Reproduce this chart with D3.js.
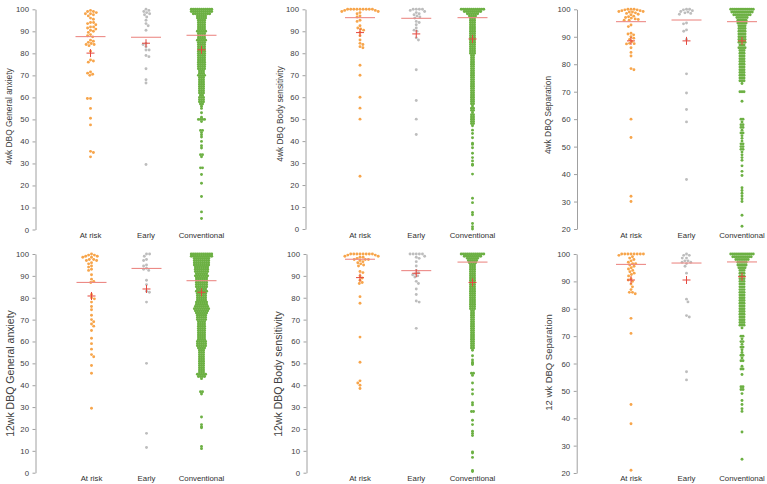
<!DOCTYPE html>
<html>
<head>
<meta charset="utf-8">
<script src="https://cdn.jsdelivr.net/npm/d3@7"></script>
<style>
  body { margin: 0; background: #fff; }
  svg { display: block; font-family: "Liberation Sans", Arial, sans-serif; }
</style>
</head>
<body>
<svg id="chart" width="767" height="484"></svg>
<script>
// groups on every panel
const categories = ["At risk", "Early", "Conventional"];
const panelTitles = [
  "4wk DBQ General anxiety", "4wk DBQ Body sensitivity", "4wk DBQ Separation",
  "12wk DBQ General anxiety", "12wk DBQ Body sensitivity", "12 wk DBQ Separation"
];
const ticksFull = [0, 10, 20, 30, 40, 50, 60, 70, 80, 90, 100];
const ticksSep = [20, 30, 40, 50, 60, 70, 80, 90, 100];

// 4wk General anxiety
const atRiskGA4 = [99.5,99,99,98.5,98,98,97.5,97,96,95.5,94,94,93.5,93,92,92,91.5,91,90.5,90,89.5,88.5,88,87.5,86,85.5,85,84.5,84,84,83.5,81,77,76.5,76,71.5,71,70.5,70,59.5,59.5,55,50.5,47.5,35.5,35,33];
const earlyGA4 = [100,99.5,99,98.5,98,97.5,96.5,95,93.5,92.5,90.5,84.5,84,83,81.5,81.5,79,78.5,73,68,66.5,29.5];
// conventional groups are [value, count]
const convGA4 = [[100,11],[99,11],[98,9],[97,5],[96,5],[95,4],[94,4],[93,4],[92,4],[91,4],[90,5],[89,4],[88,4],[87,4],[86,5],[85,4],[84,4],[83,4],[82,4],[81,4],[80,4],[79,4],[78,4],[77,4],[76,4],[75,4],[74,4],[73,4],[72,3],[71,3],[70,4],[69,3],[68,3],[67,3],[66,3],[65,3],[64,3],[63,3],[62,3],[61,2],[60,3],[59,3],[58,3],[57,2],[56,1],[55,1],[53,1],[51,1],[50,4],[49,1],[45,2],[44,1],[43,1],[42,1],[40,1],[38,1],[37,1],[34,2],[33,1],[28,2],[25,1],[21,1],[15,1],[8,1],[5,1]];
const medGA4 = [87.6, 87.3, 88.2];
const meanGA4 = [80.1, 84.6, 81.6];

// 4wk Body sensitivity
const atRiskBS4 = [100,100,100,100,100,100,100,100,100,99.5,99.5,99,99,98.5,98,97,96.5,95,94.5,92.5,91.5,91,90.5,89.5,88,86,84.5,84,83,82.5,74.5,70,60,55,50,24];
const earlyBS4 = [100,100,100,100,99.5,99,98.5,98,97.5,97,96.5,96,94.5,94,93,91.5,90.5,90,87,86,72.5,58.5,50,43];
const convBS4 = [[100,12],[99,9],[98,6],[97,4],[96,3],[95,3],[94,3],[93,3],[92,3],[91,3],[90,3],[89,3],[88,3],[87,3],[86,3],[85,3],[84,3],[83,3],[82,3],[81,3],[80,3],[79,2],[78,2],[77,2],[76,2],[75,2],[74,2],[73,2],[72,2],[71,2],[70,2],[69,2],[68,2],[67,2],[66,2],[65,2],[64,2],[63,2],[62,2],[61,2],[60,2],[59,2],[58,2],[57,2],[56,1],[55,2],[54,2],[53,1],[52,2],[51,2],[50,2],[49,2],[48,2],[47,1],[45,1],[43.5,1],[41.5,1],[39,1],[38.5,1],[37,1],[34.5,1],[32.5,1],[31,1],[29.5,1],[29,1],[25,1],[14,1],[12,1],[7.5,1],[6.5,1],[2.5,1],[1,1],[0,1]];
const medBS4 = [96.2, 95.9, 96.2];
const meanBS4 = [89.4, 88.8, 86.5];

// 4wk Separation
const atRiskSep4 = [100,100,100,99.8,99.8,99.5,99.5,99.2,99.2,99,99,98.7,98.5,98.2,98,97.5,97.3,97,96.8,96.5,96.3,96,96,94.3,93.7,91.3,91,90.7,90,89.5,89,88.3,87.6,87.5,87.4,86,84.3,83,78.4,78,60,53.3,31.9,30];
const earlySep4 = [100,100,99.8,99.5,99.2,99,98.7,98.5,98.2,95,94.7,92.5,92,89,76.5,69.5,63.5,59,38];
const convSep4 = [[100,12],[99,11],[98,9],[97,6],[96,5],[95,5],[94,4],[93,4],[92,4],[91,4],[90,4],[89,4],[88,4],[87,3],[86,4],[85,3],[84,3],[83,3],[82,3],[81,3],[80,3],[79,3],[78,3],[77,3],[76,3],[75,3],[74,3],[73,1],[70,3],[66.5,1],[60,2],[59,1],[58,2],[57,2],[56,1],[55,2],[54,1],[53,1],[52,1],[51,2],[50,2],[49,2],[48,1],[47,1],[46,1],[45,1],[43,1],[41,1],[39.5,1],[35,1],[34,1],[33,1],[32,1],[31,1],[30,1],[25,1],[21,1]];
const medSep4 = [95.5, 96.1, 95.5];
const meanSep4 = [88.5, 88.5, 88.5];

// 12wk General anxiety
const atRiskGA12 = [100,99.5,99.5,99,99,98.5,98.5,97.5,97.5,97,97,96,95.5,94.5,94,93,92.5,90.5,88.5,87.5,87,81.5,80,79.5,78,76,74.5,72,70,69,68,67,65,61.5,59,56.5,54,53,49,45.5,29.5];
const earlyGA12 = [100,100,99,97.5,97,95,94.5,93.5,93,92.5,88,86,83,82.5,78,50,18,11.5];
const convGA12 = [[100,11],[99,11],[98,8],[97,8],[96,8],[95,8],[94,7],[93,7],[92,7],[91,6],[90,7],[89,6],[88,6],[87,6],[86,6],[85,6],[84,5],[83,6],[82,5],[81,5],[80,5],[79,5],[78,6],[77,6],[76,7],[75,8],[74,7],[73,6],[72,5],[71,5],[70,5],[69,4],[68,4],[67,4],[66,4],[65,4],[64,4],[63,4],[62,4],[61,4],[60,5],[59,5],[58,5],[57,4],[56,3],[55,3],[54,3],[53,3],[52,3],[51,3],[50,3],[49,3],[48,3],[47,3],[46,3],[45,5],[44,4],[43,1],[37,2],[36,1],[25.5,1],[22,1],[21,1],[20.5,1],[12,1],[11,1]];
const medGA12 = [87, 93.4, 87.8];
const meanGA12 = [80.8, 84, 82.5];

// 12wk Body sensitivity
const atRiskBS12 = [100,100,100,100,100,100,100,100,99.5,99.5,99,99,98.5,98.5,98,97.5,97.5,97.5,97,96.5,96,95.5,95,94.5,92,91.5,90,89,88,87,86.5,80.5,77.5,62,50.5,42,41,40,38.5];
const earlyBS12 = [100,100,100,100,100,99,98.5,98,96.5,94.5,92.5,91.5,91,90.5,90,89.5,87.5,86.5,84,81.5,78.5,78,66];
const convBS12 = [[100,12],[99,9],[98,6],[97,5],[96,4],[95,3],[94,3],[93,3],[92,3],[91,3],[90,3],[89,3],[88,3],[87,3],[86,3],[85,3],[84,3],[83,3],[82,3],[81,3],[80,3],[79,3],[78,3],[77,3],[76,3],[75,3],[74,2],[73,2],[72,2],[71,2],[70,2],[69,2],[68,2],[67,2],[66,2],[65,2],[64,2],[63,2],[62,2],[61,2],[60,2],[59,2],[58,2],[57,2],[56,1],[53.5,1],[51.5,1],[50.5,1],[50,1],[49.5,1],[45.5,2],[44.5,1],[41,1],[38,1],[36,1],[32,1],[31,1],[28,2],[24,1],[22,1],[19,1],[18,1],[17,1],[9.5,1],[9,1],[7,1],[1,1],[0.5,1]];
const medBS12 = [97.6, 92.4, 96.3];
const meanBS12 = [89.2, 91.2, 87];

// 12wk Separation
const atRiskSep12 = [100,100,100,100,100,100,100,100,99.5,99,98.5,98,97.5,97,96.5,96.5,96,95.5,95,94.5,94,93.5,93,92.5,92,91,90.5,90,89,88,87,86,86,85.5,76.5,71,45,38,21];
const earlySep12 = [100,99.5,99.5,98.5,98.5,97.5,97.5,97,97,96.5,95.5,93,83.5,82.5,77.5,77,57,54];
const convSep12 = [[100,12],[99,10],[98,7],[97,5],[96,5],[95,4],[94,3],[93,3],[92,3],[91,3],[90,3],[89,3],[88,3],[87,3],[86,3],[85,3],[84,3],[83,3],[82,3],[81,3],[80,3],[79,3],[78,3],[77,3],[76,3],[75,3],[74,3],[73,1],[70,2],[69,1],[68,2],[67,1],[66,2],[65,1],[64,1],[63,2],[62,1],[61,2],[59,1],[58,2],[56,1],[51.5,2],[50.5,2],[49,1],[46.5,1],[45,1],[43.5,1],[42.5,1],[35,1],[25,1]];
const medSep12 = [96.2, 96.7, 97.1];
const meanSep12 = [90.5, 90.5, 91.7];

const colors = ["#F7A54B", "#BDBDBD", "#6CB043"];

// expand [value, count] pairs into single values
function expand(pairs) {
  const out = [];
  pairs.forEach(([v, n]) => { for (let i = 0; i < n; i++) out.push(v); });
  return out;
}

const panels = [
  { groups: [atRiskGA4, earlyGA4, expand(convGA4)], med: medGA4, mean: meanGA4, ticks: ticksFull },
  { groups: [atRiskBS4, earlyBS4, expand(convBS4)], med: medBS4, mean: meanBS4, ticks: ticksFull },
  { groups: [atRiskSep4, earlySep4, expand(convSep4)], med: medSep4, mean: meanSep4, ticks: ticksSep },
  { groups: [atRiskGA12, earlyGA12, expand(convGA12)], med: medGA12, mean: meanGA12, ticks: ticksFull },
  { groups: [atRiskBS12, earlyBS12, expand(convBS12)], med: medBS12, mean: meanBS12, ticks: ticksFull },
  { groups: [atRiskSep12, earlySep12, expand(convSep12)], med: medSep12, mean: meanSep12, ticks: ticksSep }
];

// placement of the six panels
const layout = [
  { ax: 35.5, y0: 229.5, y1: 9.3, cx: [90.5, 201.5], tx: 12, ty: 116.5, fs: 8.4, labY: 238.3 },
  { ax: 305.5, y0: 229, y1: 9.3, cx: [360, 472.5], tx: 283, ty: 114, fs: 8.4, labY: 238.3 },
  { ax: 577, y0: 229, y1: 9.3, cx: [631, 742], tx: 551, ty: 115, fs: 8.4, labY: 238.3 },
  { ax: 35.5, y0: 472.7, y1: 254, cx: [91.5, 201.5], tx: 13.5, ty: 373.5, fs: 10.5, labY: 480.7 },
  { ax: 306.5, y0: 472.7, y1: 254, cx: [360, 472.5], tx: 282, ty: 374, fs: 10.5, labY: 480.7 },
  { ax: 576.7, y0: 473, y1: 254, cx: [631, 742], tx: 551.5, ty: 362.5, fs: 9.5, labY: 480.7 }
];

const groupDiam = [3.1, 3.1, 2.05];
const R = 1.45;

// symmetric beeswarm: each point goes to the free x closest to the centre
function swarm(values, y, diam, recenter) {
  const nodes = values.map(v => ({ v, y: y(v), x: 0 })).sort((a, b) => a.y - b.y);
  const placed = [];
  let flip = 1;
  nodes.forEach(n => {
    const ivs = [];
    placed.forEach(p => {
      const dy = Math.abs(p.y - n.y);
      if (dy < diam) {
        const dx = Math.sqrt(diam * diam - dy * dy);
        ivs.push([p.x - dx, p.x + dx]);
      }
    });
    const cands = [0];
    ivs.forEach(([a, b]) => cands.push(a, b));
    const free = cands.filter(c => ivs.every(([a, b]) => c <= a + 1e-6 || c >= b - 1e-6));
    free.sort((a, b) => {
      const d = Math.abs(a) - Math.abs(b);
      if (Math.abs(d) > 1e-6) return d;
      return (a - b) * flip;
    });
    n.x = free[0];
    flip = -flip;
    placed.push(n);
  });
  // tied rows of the big group sit centred on the category
  if (recenter) {
    d3.group(nodes, d => d.v).forEach(row => {
      const m = d3.mean(row, d => d.x);
      row.forEach(d => { d.x -= m; });
    });
  }
  return nodes;
}

const svg = d3.select("#chart");

panels.forEach((p, i) => {
  const L = layout[i];
  const y = d3.scaleLinear()
    .domain([p.ticks[0], 100])
    .range([L.y0, L.y1]);
  const x = d3.scalePoint()
    .domain(categories)
    .range(L.cx);

  const g = svg.append("g");

  const axis = g.append("g")
    .attr("transform", `translate(${L.ax},0)`)
    .call(d3.axisLeft(y).tickValues(p.ticks).tickSize(3).tickSizeOuter(0).tickPadding(3.5));
  axis.select(".domain").attr("stroke", "#A0A0A0");
  axis.selectAll(".tick line").attr("stroke", "#A0A0A0");
  axis.selectAll(".tick text")
    .attr("fill", "#404040")
    .style("font-size", "7.8px")
    .style("font-family", "'Liberation Sans', Arial, sans-serif");

  g.append("text")
    .attr("transform", `translate(${L.tx},${L.ty}) rotate(-90)`)
    .attr("text-anchor", "middle")
    .attr("fill", "#404040")
    .style("font-size", L.fs + "px")
    .text(panelTitles[i]);

  g.selectAll(".cat")
    .data(categories)
    .join("text")
    .attr("x", d => x(d))
    .attr("y", L.labY)
    .attr("text-anchor", "middle")
    .attr("fill", "#303030")
    .style("font-size", "7.8px")
    .text(d => d);

  p.groups.forEach((vals, k) => {
    const nodes = swarm(vals, y, groupDiam[k], k === 2);
    g.append("g")
      .selectAll("circle")
      .data(nodes)
      .join("circle")
      .attr("cx", d => x(categories[k]) + d.x)
      .attr("cy", d => d.y)
      .attr("r", R)
      .attr("fill", colors[k]);
  });

  // median lines
  g.append("g")
    .selectAll("line")
    .data(p.med)
    .join("line")
    .attr("x1", (d, k) => x(categories[k]) - 15)
    .attr("x2", (d, k) => x(categories[k]) + 15)
    .attr("y1", d => y(d))
    .attr("y2", d => y(d))
    .attr("stroke", "#EC8A86")
    .attr("stroke-width", 1.1);

  // mean crosses
  const cross = g.append("g")
    .selectAll("g")
    .data(p.mean)
    .join("g")
    .attr("transform", (d, k) => `translate(${x(categories[k])},${y(d)})`)
    .attr("stroke", "#E5483F")
    .attr("stroke-width", 1);
  cross.append("line").attr("x1", -4).attr("x2", 4);
  cross.append("line").attr("y1", -4).attr("y2", 4);
});
</script>
</body>
</html>
